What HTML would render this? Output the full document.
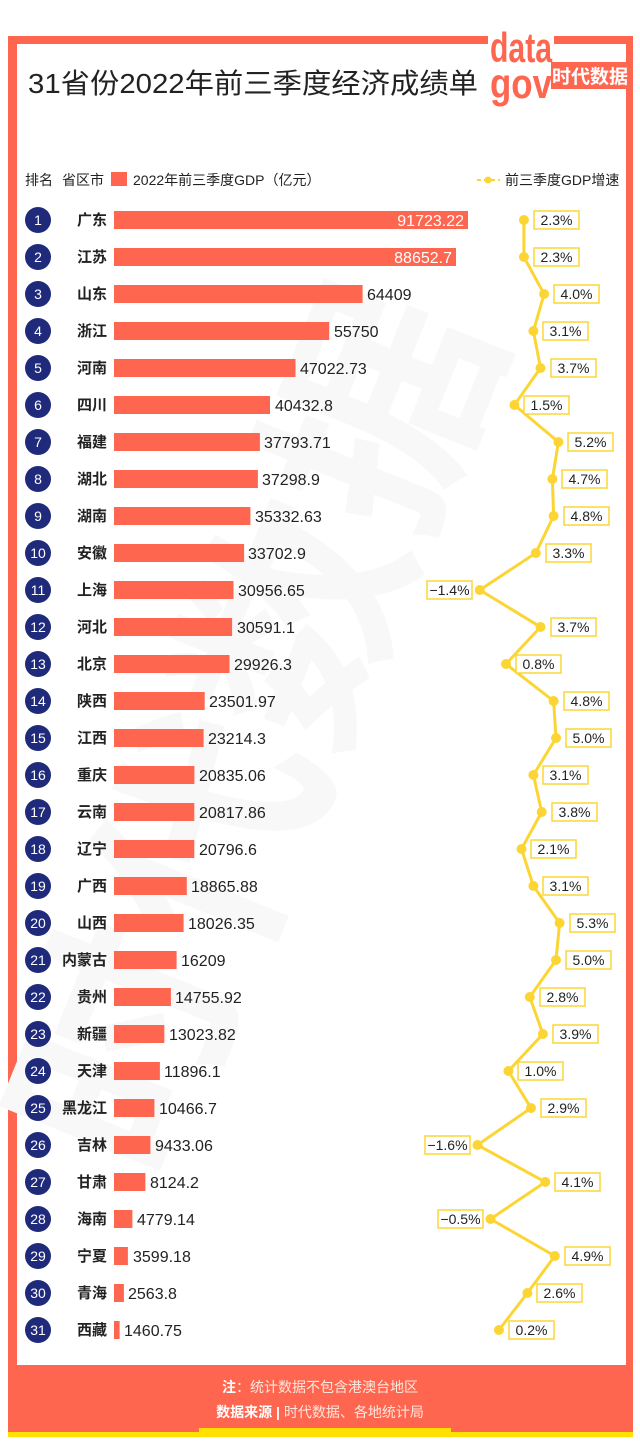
<!DOCTYPE html>
<html><head><meta charset="utf-8"><style>
body{margin:0;background:#fff;}
svg{display:block;font-family:"Liberation Sans","Noto Sans CJK SC",sans-serif;}
</style></head><body>
<svg width="640" height="1442" viewBox="0 0 640 1442" xmlns="http://www.w3.org/2000/svg">
<rect x="8" y="36" width="625" height="1401" fill="#fe6650"/>
<rect x="17" y="44" width="609" height="1321" fill="#fff"/>
<rect x="8" y="1432" width="625" height="5" fill="#ffe000"/>
<rect x="199" y="1428" width="252" height="6" fill="#ffe000"/>
<text x="330" y="760" font-size="230" font-weight="bold" fill="#f8f8f8" text-anchor="middle" transform="rotate(-68 330 760)">时代数据</text>
<!-- logo -->
<rect x="488" y="14" width="66" height="94" fill="#fff"/>
<text x="490" y="62" font-size="42" font-weight="bold" fill="#fe6650" textLength="62" lengthAdjust="spacingAndGlyphs">data</text>
<text x="490" y="98" font-size="42" font-weight="bold" fill="#fe6650" textLength="62" lengthAdjust="spacingAndGlyphs">gov</text>
<rect x="551" y="62" width="78" height="27" fill="#fe6650"/>
<text x="590" y="83" font-size="19" font-weight="bold" fill="#fff" text-anchor="middle">时代数据</text>
<text x="28" y="93" font-size="28" fill="#222" textLength="450" lengthAdjust="spacingAndGlyphs">31省份2022年前三季度经济成绩单</text>
<!-- header -->
<g font-size="14" fill="#222">
<text x="25" y="185">排名</text><text x="62" y="185">省区市</text>
<rect x="111" y="172" width="16" height="14" fill="#fe6650"/>
<text x="133" y="185">2022年前三季度GDP（亿元）</text>
<line x1="477" y1="180" x2="500" y2="180" stroke="#fcd535" stroke-width="2" stroke-dasharray="4 3"/>
<circle cx="488" cy="180" r="3.5" fill="#fcd535"/>
<text x="505" y="185">前三季度GDP增速</text>
</g>
<!-- rows -->
<g font-size="15">
<g fill="#1f2a7a">
<circle cx="38" cy="220" r="13"/><circle cx="38" cy="257" r="13"/><circle cx="38" cy="294" r="13"/><circle cx="38" cy="331" r="13"/><circle cx="38" cy="368" r="13"/><circle cx="38" cy="405" r="13"/><circle cx="38" cy="442" r="13"/><circle cx="38" cy="479" r="13"/><circle cx="38" cy="516" r="13"/><circle cx="38" cy="553" r="13"/><circle cx="38" cy="590" r="13"/><circle cx="38" cy="627" r="13"/><circle cx="38" cy="664" r="13"/><circle cx="38" cy="701" r="13"/><circle cx="38" cy="738" r="13"/><circle cx="38" cy="775" r="13"/><circle cx="38" cy="812" r="13"/><circle cx="38" cy="849" r="13"/><circle cx="38" cy="886" r="13"/><circle cx="38" cy="923" r="13"/><circle cx="38" cy="960" r="13"/><circle cx="38" cy="997" r="13"/><circle cx="38" cy="1034" r="13"/><circle cx="38" cy="1071" r="13"/><circle cx="38" cy="1108" r="13"/><circle cx="38" cy="1145" r="13"/><circle cx="38" cy="1182" r="13"/><circle cx="38" cy="1219" r="13"/><circle cx="38" cy="1256" r="13"/><circle cx="38" cy="1293" r="13"/><circle cx="38" cy="1330" r="13"/>
</g>
<g fill="#fff" font-size="14" text-anchor="middle">
<text x="38" y="225">1</text><text x="38" y="262">2</text><text x="38" y="299">3</text><text x="38" y="336">4</text><text x="38" y="373">5</text><text x="38" y="410">6</text><text x="38" y="447">7</text><text x="38" y="484">8</text><text x="38" y="521">9</text><text x="38" y="558">10</text><text x="38" y="595">11</text><text x="38" y="632">12</text><text x="38" y="669">13</text><text x="38" y="706">14</text><text x="38" y="743">15</text><text x="38" y="780">16</text><text x="38" y="817">17</text><text x="38" y="854">18</text><text x="38" y="891">19</text><text x="38" y="928">20</text><text x="38" y="965">21</text><text x="38" y="1002">22</text><text x="38" y="1039">23</text><text x="38" y="1076">24</text><text x="38" y="1113">25</text><text x="38" y="1150">26</text><text x="38" y="1187">27</text><text x="38" y="1224">28</text><text x="38" y="1261">29</text><text x="38" y="1298">30</text><text x="38" y="1335">31</text>
</g>
<g fill="#222" font-weight="bold" text-anchor="end">
<text x="107" y="225">广东</text><text x="107" y="262">江苏</text><text x="107" y="299">山东</text><text x="107" y="336">浙江</text><text x="107" y="373">河南</text><text x="107" y="410">四川</text><text x="107" y="447">福建</text><text x="107" y="484">湖北</text><text x="107" y="521">湖南</text><text x="107" y="558">安徽</text><text x="107" y="595">上海</text><text x="107" y="632">河北</text><text x="107" y="669">北京</text><text x="107" y="706">陕西</text><text x="107" y="743">江西</text><text x="107" y="780">重庆</text><text x="107" y="817">云南</text><text x="107" y="854">辽宁</text><text x="107" y="891">广西</text><text x="107" y="928">山西</text><text x="107" y="965">内蒙古</text><text x="107" y="1002">贵州</text><text x="107" y="1039">新疆</text><text x="107" y="1076">天津</text><text x="107" y="1113">黑龙江</text><text x="107" y="1150">吉林</text><text x="107" y="1187">甘肃</text><text x="107" y="1224">海南</text><text x="107" y="1261">宁夏</text><text x="107" y="1298">青海</text><text x="107" y="1335">西藏</text>
</g>
<g fill="#fe6650">
<rect x="114" y="211" width="354" height="18"/><rect x="114" y="248" width="342" height="18"/><rect x="114" y="285" width="248.6" height="18"/><rect x="114" y="322" width="215.2" height="18"/><rect x="114" y="359" width="181.5" height="18"/><rect x="114" y="396" width="156" height="18"/><rect x="114" y="433" width="145.9" height="18"/><rect x="114" y="470" width="143.9" height="18"/><rect x="114" y="507" width="136.4" height="18"/><rect x="114" y="544" width="130.1" height="18"/><rect x="114" y="581" width="119.5" height="18"/><rect x="114" y="618" width="118.1" height="18"/><rect x="114" y="655" width="115.5" height="18"/><rect x="114" y="692" width="90.7" height="18"/><rect x="114" y="729" width="89.6" height="18"/><rect x="114" y="766" width="80.4" height="18"/><rect x="114" y="803" width="80.3" height="18"/><rect x="114" y="840" width="80.3" height="18"/><rect x="114" y="877" width="72.8" height="18"/><rect x="114" y="914" width="69.6" height="18"/><rect x="114" y="951" width="62.6" height="18"/><rect x="114" y="988" width="56.9" height="18"/><rect x="114" y="1025" width="50.3" height="18"/><rect x="114" y="1062" width="45.9" height="18"/><rect x="114" y="1099" width="40.4" height="18"/><rect x="114" y="1136" width="36.4" height="18"/><rect x="114" y="1173" width="31.4" height="18"/><rect x="114" y="1210" width="18.4" height="18"/><rect x="114" y="1247" width="13.9" height="18"/><rect x="114" y="1284" width="9.9" height="18"/><rect x="114" y="1321" width="5.6" height="18"/>
</g>
<g font-size="16" fill="#fff" text-anchor="end">
<text x="464" y="226">91723.22</text><text x="452" y="263">88652.7</text>
</g>
<g font-size="16" fill="#222">
<text x="367" y="300">64409</text><text x="334" y="337">55750</text><text x="300" y="374">47022.73</text><text x="275" y="411">40432.8</text><text x="264" y="448">37793.71</text><text x="262" y="485">37298.9</text><text x="255" y="522">35332.63</text><text x="248" y="559">33702.9</text><text x="238" y="596">30956.65</text><text x="237" y="633">30591.1</text><text x="234" y="670">29926.3</text><text x="209" y="707">23501.97</text><text x="208" y="744">23214.3</text><text x="199" y="781">20835.06</text><text x="199" y="818">20817.86</text><text x="199" y="855">20796.6</text><text x="191" y="892">18865.88</text><text x="188" y="929">18026.35</text><text x="181" y="966">16209</text><text x="175" y="1003">14755.92</text><text x="169" y="1040">13023.82</text><text x="164" y="1077">11896.1</text><text x="159" y="1114">10466.7</text><text x="155" y="1151">9433.06</text><text x="150" y="1188">8124.2</text><text x="137" y="1225">4779.14</text><text x="133" y="1262">3599.18</text><text x="128" y="1299">2563.8</text><text x="124" y="1336">1460.75</text>
</g>
</g>
<!-- growth line -->
<polyline fill="none" stroke="#fcd535" stroke-width="3" points="523.9,220 523.9,257 544.1,294 533.4,331 540.5,368 514.4,405 558.4,442 552.4,479 553.6,516 535.8,553 479.8,590 540.5,627 506,664 553.6,701 556,738 533.4,775 541.7,812 521.5,849 533.4,886 559.6,923 556,960 529.8,997 542.9,1034 508.4,1071 531,1108 477.5,1145 545.3,1182 490.5,1219 554.8,1256 527.4,1293 498.9,1330"/>
<g fill="#fcd535">
<circle cx="523.9" cy="220" r="5"/><circle cx="523.9" cy="257" r="5"/><circle cx="544.1" cy="294" r="5"/><circle cx="533.4" cy="331" r="5"/><circle cx="540.5" cy="368" r="5"/><circle cx="514.4" cy="405" r="5"/><circle cx="558.4" cy="442" r="5"/><circle cx="552.4" cy="479" r="5"/><circle cx="553.6" cy="516" r="5"/><circle cx="535.8" cy="553" r="5"/><circle cx="479.8" cy="590" r="5"/><circle cx="540.5" cy="627" r="5"/><circle cx="506" cy="664" r="5"/><circle cx="553.6" cy="701" r="5"/><circle cx="556" cy="738" r="5"/><circle cx="533.4" cy="775" r="5"/><circle cx="541.7" cy="812" r="5"/><circle cx="521.5" cy="849" r="5"/><circle cx="533.4" cy="886" r="5"/><circle cx="559.6" cy="923" r="5"/><circle cx="556" cy="960" r="5"/><circle cx="529.8" cy="997" r="5"/><circle cx="542.9" cy="1034" r="5"/><circle cx="508.4" cy="1071" r="5"/><circle cx="531" cy="1108" r="5"/><circle cx="477.5" cy="1145" r="5"/><circle cx="545.3" cy="1182" r="5"/><circle cx="490.5" cy="1219" r="5"/><circle cx="554.8" cy="1256" r="5"/><circle cx="527.4" cy="1293" r="5"/><circle cx="498.9" cy="1330" r="5"/>
</g>
<g fill="#fff" stroke="#fcd535" stroke-width="1.5">
<rect x="534" y="211" width="45" height="18"/><rect x="534" y="248" width="45" height="18"/><rect x="554" y="285" width="45" height="18"/><rect x="543" y="322" width="45" height="18"/><rect x="551" y="359" width="45" height="18"/><rect x="524" y="396" width="45" height="18"/><rect x="568" y="433" width="45" height="18"/><rect x="562" y="470" width="45" height="18"/><rect x="564" y="507" width="45" height="18"/><rect x="546" y="544" width="45" height="18"/><rect x="427" y="581" width="45" height="18"/><rect x="551" y="618" width="45" height="18"/><rect x="516" y="655" width="45" height="18"/><rect x="564" y="692" width="45" height="18"/><rect x="566" y="729" width="45" height="18"/><rect x="543" y="766" width="45" height="18"/><rect x="552" y="803" width="45" height="18"/><rect x="531" y="840" width="45" height="18"/><rect x="543" y="877" width="45" height="18"/><rect x="570" y="914" width="45" height="18"/><rect x="566" y="951" width="45" height="18"/><rect x="540" y="988" width="45" height="18"/><rect x="553" y="1025" width="45" height="18"/><rect x="518" y="1062" width="45" height="18"/><rect x="541" y="1099" width="45" height="18"/><rect x="425" y="1136" width="45" height="18"/><rect x="555" y="1173" width="45" height="18"/><rect x="438" y="1210" width="45" height="18"/><rect x="565" y="1247" width="45" height="18"/><rect x="537" y="1284" width="45" height="18"/><rect x="509" y="1321" width="45" height="18"/>
</g>
<g font-size="14" fill="#222" text-anchor="middle">
<text x="556.5" y="225">2.3%</text><text x="556.5" y="262">2.3%</text><text x="576.5" y="299">4.0%</text><text x="565.5" y="336">3.1%</text><text x="573.5" y="373">3.7%</text><text x="546.5" y="410">1.5%</text><text x="590.5" y="447">5.2%</text><text x="584.5" y="484">4.7%</text><text x="586.5" y="521">4.8%</text><text x="568.5" y="558">3.3%</text><text x="449.5" y="595">−1.4%</text><text x="573.5" y="632">3.7%</text><text x="538.5" y="669">0.8%</text><text x="586.5" y="706">4.8%</text><text x="588.5" y="743">5.0%</text><text x="565.5" y="780">3.1%</text><text x="574.5" y="817">3.8%</text><text x="553.5" y="854">2.1%</text><text x="565.5" y="891">3.1%</text><text x="592.5" y="928">5.3%</text><text x="588.5" y="965">5.0%</text><text x="562.5" y="1002">2.8%</text><text x="575.5" y="1039">3.9%</text><text x="540.5" y="1076">1.0%</text><text x="563.5" y="1113">2.9%</text><text x="447.5" y="1150">−1.6%</text><text x="577.5" y="1187">4.1%</text><text x="460.5" y="1224">−0.5%</text><text x="587.5" y="1261">4.9%</text><text x="559.5" y="1298">2.6%</text><text x="531.5" y="1335">0.2%</text>
</g>
<!-- footer -->
<text x="320" y="1392" font-size="14" fill="#fde7df" text-anchor="middle"><tspan font-weight="bold" fill="#fff">注</tspan>：统计数据不包含港澳台地区</text>
<text x="320" y="1417" font-size="14" fill="#fde7df" text-anchor="middle"><tspan font-weight="bold" fill="#fff">数据来源</tspan><tspan fill="#fff" font-weight="bold"> | </tspan>时代数据、各地统计局</text>
</svg>
</body></html>
